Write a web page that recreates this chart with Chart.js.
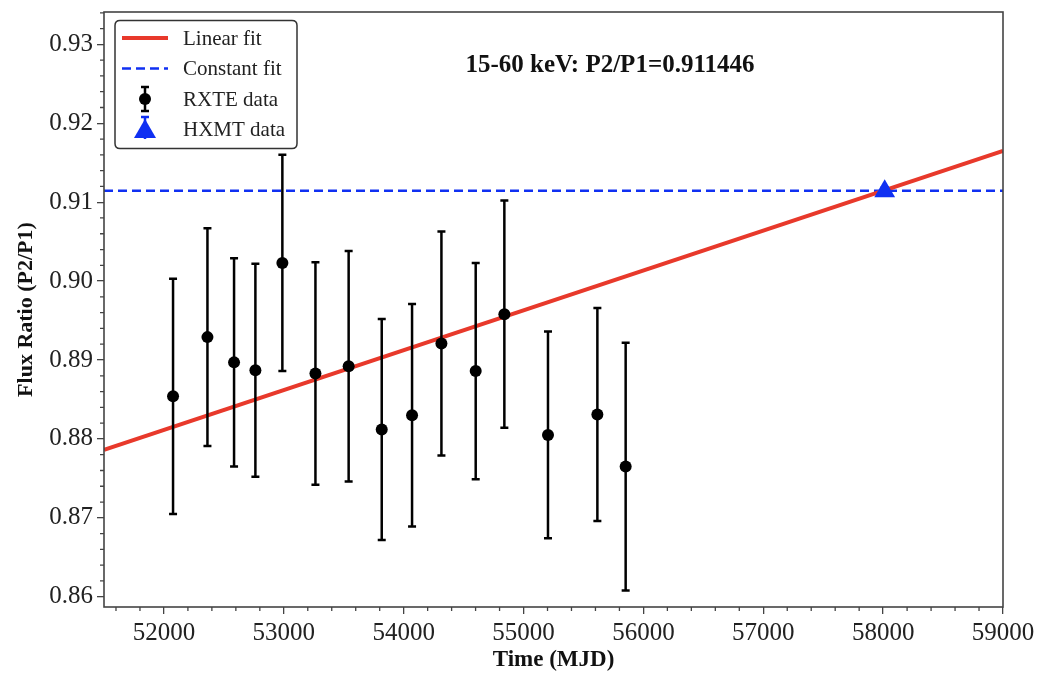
<!DOCTYPE html>
<html><head><meta charset="utf-8">
<script src="https://cdn.jsdelivr.net/npm/chart.js@4.4.0/dist/chart.umd.min.js"></script>
<style>html,body{margin:0;padding:0;background:#fff;}#wrap{width:1039px;height:674px;}</style>
</head><body><div id="wrap"><canvas id="c" width="1039" height="674"></canvas></div>
<script>
const rxteMJD = [52076, 52363, 52585, 52763, 52988, 53264, 53541, 53817, 54070, 54315, 54601, 54840, 55204, 55616, 55852];
const rxteRatio = [0.8854, 0.8929, 0.8897, 0.8887, 0.9023, 0.8883, 0.8892, 0.8812, 0.8830, 0.8921, 0.8886, 0.8958, 0.8805, 0.8831, 0.8765];
const rxteErr = [0.0149, 0.0138, 0.0132, 0.0135, 0.0137, 0.0141, 0.0146, 0.0140, 0.0141, 0.0142, 0.0137, 0.0144, 0.0131, 0.0135, 0.0157];
const hxmtMJD = [58013];
const hxmtRatio = [0.9114];
const hxmtErr = [0.0005];
const linearFitMJD = [51500, 59000];
const linearFitRatio = [0.8786, 0.9165];
const constantFitMJD = [51500, 59000];
const constantFitRatio = [0.911446, 0.911446];
const xTicks = [52000, 53000, 54000, 55000, 56000, 57000, 58000, 59000];
const yTicks = [0.86, 0.87, 0.88, 0.89, 0.90, 0.91, 0.92, 0.93];
const xRange = [51500, 59000];
const yRange = [0.8587, 0.9341];
const annotationText = '15-60 keV: P2/P1=0.911446';
const legendLabels = ['Linear fit', 'Constant fit', 'RXTE data', 'HXMT data'];

const RED = '#e8392b', BLUE = '#1030f2', AX = '#444';
const SERIF = '"Liberation Serif", "Times New Roman", serif';
const pts = (xs, ys) => xs.map((x, i) => ({x: x, y: ys[i]}));

const errorBars = {
  id: 'errorBars',
  beforeDatasetDraw(chart, args) {
    const ds = chart.data.datasets[args.index];
    if (!ds.errors) return;
    const xs = chart.scales.x, ys = chart.scales.y, ctx = chart.ctx;
    ctx.save();
    ctx.strokeStyle = ds.errColor; ctx.lineWidth = 2.5; ctx.lineCap = 'butt';
    ds.data.forEach((p, i) => {
      const px = xs.getPixelForValue(p.x);
      const t = ys.getPixelForValue(p.y + ds.errors[i]);
      const b = ys.getPixelForValue(p.y - ds.errors[i]);
      ctx.beginPath();
      ctx.moveTo(px, t); ctx.lineTo(px, b);
      ctx.moveTo(px - 4, t); ctx.lineTo(px + 4, t);
      ctx.moveTo(px - 4, b); ctx.lineTo(px + 4, b);
      ctx.stroke();
    });
    ctx.restore();
  }
};

const frameAndTicks = {
  id: 'frameAndTicks',
  afterDatasetsDraw(chart) {
    const {ctx, chartArea: a} = chart;
    const xs = chart.scales.x, ys = chart.scales.y;
    ctx.save();
    ctx.strokeStyle = AX; ctx.lineWidth = 1.3;
    ctx.beginPath();
    for (let v = 51600; v <= 59000; v += 200) {
      if (v % 1000 === 0) continue;
      const px = xs.getPixelForValue(v);
      ctx.moveTo(px, a.bottom); ctx.lineTo(px, a.bottom + 4);
    }
    for (let k = 0; k <= 37; k++) {
      const v = 0.86 + k * 0.002;
      if (k % 5 === 0 || v > yRange[1]) continue;
      const py = ys.getPixelForValue(v);
      ctx.moveTo(a.left, py); ctx.lineTo(a.left - 4, py);
    }
    ctx.stroke();
    ctx.lineWidth = 1.6;
    ctx.strokeRect(a.left, a.top, a.right - a.left, a.bottom - a.top);
    ctx.restore();
  },
  afterDraw(chart) {
    const ctx = chart.ctx;
    ctx.save();
    ctx.fillStyle = '#111';
    ctx.font = 'bold 25px ' + SERIF;
    ctx.textAlign = 'center'; ctx.textBaseline = 'middle';
    ctx.fillText(annotationText, 610, 66);
    const bx = 115, by = 20.5, bw = 182, bh = 128, r = 5;
    ctx.beginPath();
    ctx.moveTo(bx + r, by); ctx.lineTo(bx + bw - r, by); ctx.quadraticCurveTo(bx + bw, by, bx + bw, by + r);
    ctx.lineTo(bx + bw, by + bh - r); ctx.quadraticCurveTo(bx + bw, by + bh, bx + bw - r, by + bh);
    ctx.lineTo(bx + r, by + bh); ctx.quadraticCurveTo(bx, by + bh, bx, by + bh - r);
    ctx.lineTo(bx, by + r); ctx.quadraticCurveTo(bx, by, bx + r, by);
    ctx.closePath();
    ctx.fillStyle = 'rgba(255,255,255,0.9)'; ctx.fill();
    ctx.strokeStyle = '#333'; ctx.lineWidth = 1.5; ctx.stroke();
    const rows = [38, 68.5, 99, 129];
    ctx.strokeStyle = RED; ctx.lineWidth = 4;
    ctx.beginPath(); ctx.moveTo(122, rows[0]); ctx.lineTo(168, rows[0]); ctx.stroke();
    ctx.strokeStyle = BLUE; ctx.lineWidth = 2.5; ctx.setLineDash([9, 5]);
    ctx.beginPath(); ctx.moveTo(122, rows[1]); ctx.lineTo(168, rows[1]); ctx.stroke();
    ctx.setLineDash([]);
    ctx.strokeStyle = '#000'; ctx.lineWidth = 2.5;
    ctx.beginPath();
    ctx.moveTo(145, rows[2] - 12); ctx.lineTo(145, rows[2] + 12);
    ctx.moveTo(141, rows[2] - 12); ctx.lineTo(149, rows[2] - 12);
    ctx.moveTo(141, rows[2] + 12); ctx.lineTo(149, rows[2] + 12);
    ctx.stroke();
    ctx.fillStyle = '#000'; ctx.beginPath(); ctx.arc(145, rows[2], 6, 0, Math.PI * 2); ctx.fill();
    ctx.strokeStyle = BLUE; ctx.lineWidth = 2.5;
    ctx.beginPath();
    ctx.moveTo(145, rows[3] - 12); ctx.lineTo(145, rows[3] + 10);
    ctx.moveTo(141, rows[3] - 12); ctx.lineTo(149, rows[3] - 12);
    ctx.stroke();
    ctx.fillStyle = BLUE; ctx.beginPath();
    ctx.moveTo(145, rows[3] - 10); ctx.lineTo(156, rows[3] + 9); ctx.lineTo(134, rows[3] + 9); ctx.closePath(); ctx.fill();
    ctx.fillStyle = '#222'; ctx.font = '21px ' + SERIF;
    ctx.textAlign = 'left'; ctx.textBaseline = 'middle';
    legendLabels.forEach((t, i) => ctx.fillText(t, 183, rows[i] + 1));
    ctx.restore();
  }
};

new Chart(document.getElementById('c'), {
  type: 'scatter',
  data: {
    datasets: [
      {label: 'RXTE data', data: pts(rxteMJD, rxteRatio), errors: rxteErr, errColor: '#000',
        pointRadius: 6, pointBackgroundColor: '#000', pointBorderColor: '#000', pointBorderWidth: 0, showLine: false},
      {label: 'HXMT data', data: pts(hxmtMJD, hxmtRatio), errors: hxmtErr, errColor: BLUE,
        pointStyle: 'triangle', pointRadius: 12, pointBackgroundColor: BLUE, pointBorderColor: BLUE, pointBorderWidth: 0, showLine: false},
      {label: 'Linear fit', data: pts(linearFitMJD, linearFitRatio), showLine: true, borderColor: RED, borderWidth: 4, pointRadius: 0, fill: false},
      {label: 'Constant fit', data: pts(constantFitMJD, constantFitRatio), showLine: true, borderColor: BLUE, borderWidth: 2.5, borderDash: [9, 5], pointRadius: 0, fill: false}
    ]
  },
  options: {
    responsive: false, animation: false, devicePixelRatio: 1,
    layout: {padding: {left: 0, right: 36, top: 11, bottom: 0}},
    plugins: {legend: {display: false}, tooltip: {enabled: false}},
    scales: {
      x: {
        type: 'linear', min: xRange[0], max: xRange[1],
        afterBuildTicks: s => { s.ticks = xTicks.map(v => ({value: v})); },
        afterFit: s => { s.height = 67; s.paddingLeft = 0; s.paddingRight = 0; },
        ticks: {callback: v => String(v), color: '#222', font: {family: SERIF, size: 25}, padding: 4, maxRotation: 0, autoSkip: false},
        grid: {drawOnChartArea: false, drawTicks: true, tickLength: 7, color: AX, lineWidth: 1.3},
        border: {display: false},
        title: {display: true, text: 'Time (MJD)', color: '#111', font: {family: SERIF, size: 23, weight: 'bold'}, padding: {top: 0, bottom: 0}}
      },
      y: {
        type: 'linear', min: yRange[0], max: yRange[1],
        afterBuildTicks: s => { s.ticks = yTicks.map(v => ({value: v})); },
        afterFit: s => { s.width = 104; s.paddingTop = 0; s.paddingBottom = 0; },
        ticks: {callback: v => v.toFixed(2), color: '#222', font: {family: SERIF, size: 25}, padding: 4},
        grid: {drawOnChartArea: false, drawTicks: true, tickLength: 7, color: AX, lineWidth: 1.3},
        border: {display: false},
        title: {display: true, text: 'Flux Ratio (P2/P1)', color: '#111', font: {family: SERIF, size: 22, weight: 'bold'}, padding: {top: 13, bottom: 0}}
      }
    }
  },
  plugins: [errorBars, frameAndTicks]
});
</script>
</body></html>
